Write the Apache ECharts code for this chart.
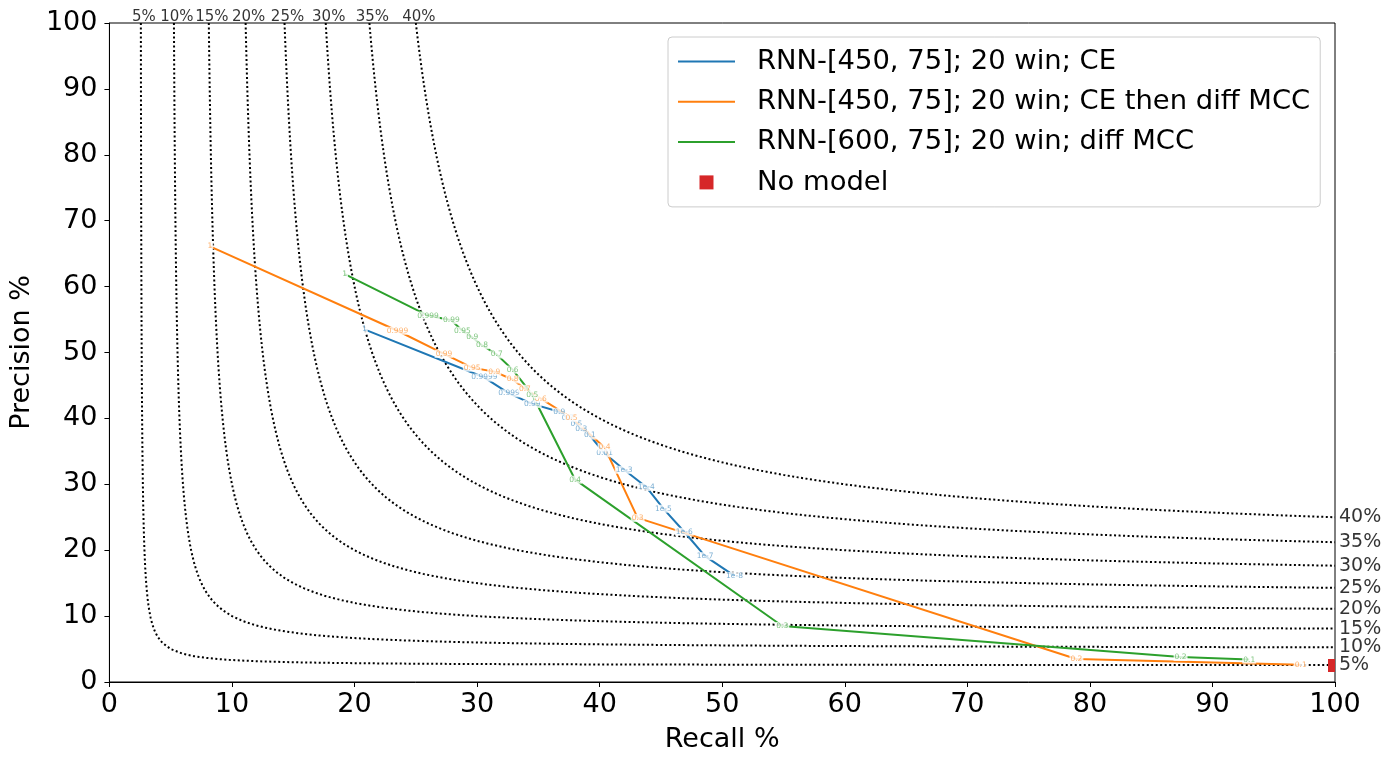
<!DOCTYPE html>
<html>
<head>
<meta charset="utf-8">
<script src="https://cdn.jsdelivr.net/npm/echarts@6/dist/echarts.min.js"></script>
<style>
  html, body { margin: 0; padding: 0; background: #fff; }
  #chart { width: 1394px; height: 763px; }
</style>
</head>
<body>
<div id="chart"></div>
<script>
// iso-F1 levels (%) drawn as dotted guides
var isoLevels = [5, 10, 15, 20, 25, 30, 35, 40];

// RNN-[450, 75]; 20 win; CE
var ceRecall    = [20.8, 30.6, 32.6, 34.5, 36.7, 37.4, 38.1, 38.5, 39.2, 40.4, 42.0, 43.8, 45.2, 46.9, 48.6, 51.0];
var cePrecision = [53.5, 46.2, 43.8, 42.2, 41.0, 40.1, 39.2, 38.4, 37.4, 34.7, 32.2, 29.6, 26.3, 22.8, 19.1, 16.1];
var ceThresh    = ['1', '0.9999', '0.999', '0.99', '0.9', '0.7', '0.5', '0.3', '0.1', '0.01', '1e-3', '1e-4', '1e-5', '1e-6', '1e-7', '1e-8'];

// RNN-[450, 75]; 20 win; CE then diff MCC
var cedRecall    = [8.2, 23.5, 27.3, 29.6, 31.4, 32.9, 33.9, 35.2, 37.7, 40.4, 43.1, 78.9, 97.2];
var cedPrecision = [66.1, 53.3, 49.8, 47.7, 47.1, 45.9, 44.5, 43.0, 40.1, 35.6, 24.9, 3.5, 2.6];
var cedThresh    = ['1', '0.999', '0.99', '0.95', '0.9', '0.8', '0.7', '0.6', '0.5', '0.4', '0.3', '0.2', '0.1'];

// RNN-[600, 75]; 20 win; diff MCC
var mccRecall    = [19.2, 26.0, 27.9, 28.8, 29.6, 30.4, 31.6, 32.9, 34.5, 38.0, 54.9, 87.4, 93.0];
var mccPrecision = [61.9, 55.6, 54.9, 53.3, 52.3, 51.1, 49.7, 47.4, 43.6, 30.7, 8.5, 3.8, 3.4];
var mccThresh    = ['1', '0.999', '0.99', '0.95', '0.9', '0.8', '0.7', '0.6', '0.5', '0.4', '0.3', '0.2', '0.1'];

// No model
var noModel = [100, 2.5];

var names = ['RNN-[450, 75]; 20 win; CE', 'RNN-[450, 75]; 20 win; CE then diff MCC', 'RNN-[600, 75]; 20 win; diff MCC', 'No model'];
var colors = ['#1f77b4', '#ff7f0e', '#2ca02c', '#d62728'];
var labelColors = ['rgba(31,119,180,0.75)', 'rgba(255,127,14,0.75)', 'rgba(44,160,44,0.75)'];

var FONT = 'DejaVu Sans';
var LINE_ICON = 'path://M0,0 L57,0 L57,2 L0,2 Z';
var SQUARE_ICON = 'path://M0,0 L10,0 L10,10 L0,10 Z';

function isoCurve(f) {
	var pts = [];
	for (var i = 0; i <= 100; i++) {
		var p = 100 - (100 - f) * i / 100;
		pts.push([f * p / (2 * p - f), p]);
	}
	for (var j = 1; j <= 100; j++) {
		var r = f + (100 - f) * j / 100;
		pts.push([r, f * r / (2 * r - f)]);
	}
	return pts;
}

function pairs(xs, ys) {
	return xs.map(function(x, i) { return [x, ys[i]]; });
}
function labelled(xs, ys, ts) {
	return xs.map(function(x, i) { return [x, ys[i], ts[i]]; });
}

var series = [];

isoLevels.forEach(function(f) {
	series.push({
		type: 'line',
		data: isoCurve(f),
		symbol: 'none',
		silent: true,
		z: 1,
		lineStyle: { color: '#000', width: 2, type: [2, 2.5] }
	});
});

// top and right labels of the iso curves
series.push({
	type: 'scatter',
	silent: true,
	clip: false,
	symbolSize: 0,
	data: isoLevels.map(function(f) { return [100 * f / (200 - f), 100, f + '%']; }),
	label: {
		show: true, position: 'top', distance: 0, offset: [3, 2],
		formatter: function(p) { return p.value[2]; },
		color: '#000', fontSize: 15, fontFamily: FONT
	}
});
series.push({
	type: 'scatter',
	silent: true,
	clip: false,
	symbolSize: 0,
	data: isoLevels.map(function(f) { return [100, 100 * f / (200 - f), f + '%']; }),
	label: {
		show: true, position: 'right', distance: 4,
		formatter: function(p) { return p.value[2]; },
		color: '#000', fontSize: 19, fontFamily: FONT
	}
});

var lineSets = [
	[ceRecall, cePrecision, ceThresh],
	[cedRecall, cedPrecision, cedThresh],
	[mccRecall, mccPrecision, mccThresh]
];

lineSets.forEach(function(s, k) {
	series.push({
		name: names[k],
		type: 'line',
		data: pairs(s[0], s[1]),
		symbol: 'none',
		z: 3,
		color: colors[k],
		itemStyle: { color: colors[k] },
		lineStyle: { color: colors[k], width: 2 }
	});
});

lineSets.forEach(function(s, k) {
	series.push({
		type: 'scatter',
		silent: true,
		symbolSize: 0,
		z: 4 + k,
		data: labelled(s[0], s[1], s[2]),
		label: {
			show: true, position: 'inside',
			formatter: function(p) { return p.value[2]; },
			color: labelColors[k], fontSize: 7.5, fontFamily: FONT,
			backgroundColor: '#fff', padding: [0, 1]
		}
	});
});

series.push({
	name: names[3],
	type: 'scatter',
	clip: false,
	z: 8,
	color: colors[3],
	itemStyle: { color: colors[3], opacity: 1 },
	symbol: 'path://M0,0 L1,0 L1,2 L0,2 Z',
	symbolSize: [7, 13],
	symbolOffset: [-3.5, 0],
	data: [noModel]
});

var option = {
	animation: false,
	backgroundColor: '#fff',
	textStyle: { fontFamily: FONT },
	grid: {
		left: 109, right: 59, top: 23, bottom: 81,
		show: true, borderColor: '#000', borderWidth: 1
	},
	legend: {
		orient: 'vertical',
		left: 668, top: 37,
		data: [
			{ name: names[0], icon: LINE_ICON },
			{ name: names[1], icon: LINE_ICON },
			{ name: names[2], icon: LINE_ICON },
			{ name: names[3], icon: SQUARE_ICON, itemStyle: { opacity: 1 } }
		],
		symbolKeepAspect: true,
		itemWidth: 57,
		itemHeight: 14,
		itemGap: 13.3,
		padding: [11, 10, 11, 10],
		backgroundColor: 'rgba(255,255,255,0.8)',
		borderColor: '#ccc',
		borderWidth: 1,
		borderRadius: 4,
		textStyle: { fontSize: 27.4, fontFamily: FONT, color: '#000', padding: [0, 0, 0, 17] }
	},
	xAxis: {
		type: 'value',
		min: 0, max: 100, interval: 10,
		name: 'Recall %',
		nameLocation: 'middle',
		nameGap: 44,
		nameTextStyle: { fontSize: 27, color: '#000', fontFamily: FONT },
		axisLine: { lineStyle: { color: '#000', width: 1 } },
		axisTick: { show: true, length: 5, lineStyle: { color: '#000' } },
		axisLabel: { fontSize: 27, color: '#000', margin: 9, fontFamily: FONT },
		splitLine: { show: false }
	},
	yAxis: {
		type: 'value',
		min: 0, max: 100, interval: 10,
		name: 'Precision %',
		nameLocation: 'middle',
		nameGap: 49,
		nameTextStyle: { fontSize: 27, color: '#000', fontFamily: FONT },
		axisLine: { show: true, lineStyle: { color: '#000', width: 1 } },
		axisTick: { show: true, length: 5, lineStyle: { color: '#000' } },
		axisLabel: { fontSize: 27, color: '#000', margin: 12, fontFamily: FONT },
		splitLine: { show: false }
	},
	series: series
};

var myChart = echarts.init(document.getElementById('chart'));
myChart.setOption(option);
</script>
</body>
</html>
